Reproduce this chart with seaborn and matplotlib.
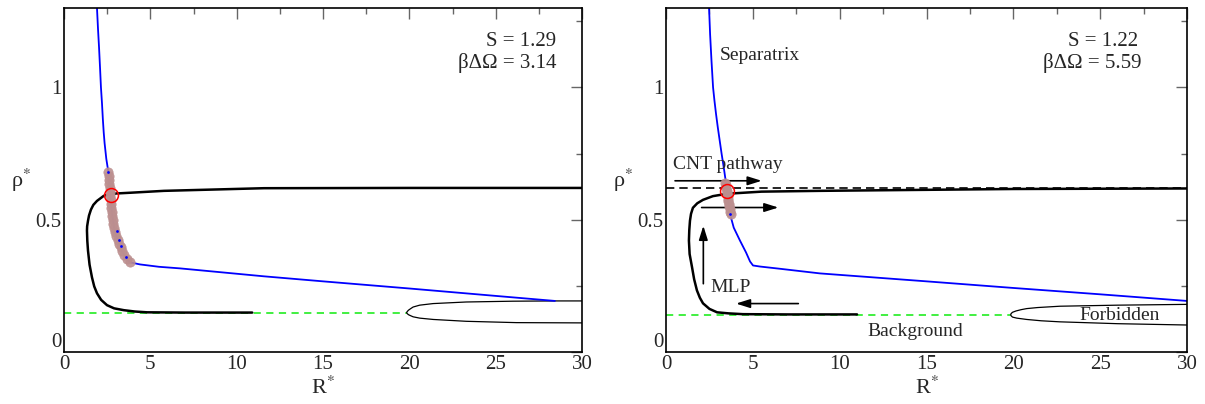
import numpy as np
import pandas as pd
import matplotlib
matplotlib.use("Agg")
import matplotlib.pyplot as plt
import seaborn as sns

# ---------------- data ----------------
# Left panel
L_sep_x = [1.91, 1.97, 2.03, 2.09, 2.14, 2.20, 2.25, 2.30, 2.35, 2.45, 2.57, 2.67, 2.80, 2.90,
           3.03, 3.12, 3.36, 3.63, 3.82, 4.4, 5.5, 6.72, 8.5, 11.58, 15.0, 20.0, 25.0, 28.43]
L_sep_y = [1.30, 1.22, 1.15, 1.07, 1.00, 0.94, 0.88, 0.83, 0.79, 0.73, 0.68, 0.59, 0.515, 0.47,
           0.44, 0.425, 0.38, 0.352, 0.339, 0.331, 0.322, 0.316, 0.305, 0.286, 0.267, 0.24,
           0.212, 0.193]

L_path_x = [30.0, 20.0, 11.58, 5.79, 3.88, 2.72, 2.30, 1.91, 1.70, 1.56, 1.45, 1.39, 1.34, 1.33,
            1.35, 1.39, 1.48, 1.62, 1.75, 1.91, 2.15, 2.49, 2.90, 3.47, 4.10, 4.81, 7.0, 10.9]
L_path_y = [0.620, 0.620, 0.619, 0.609, 0.602, 0.598, 0.590, 0.571, 0.556, 0.538, 0.516, 0.496,
            0.475, 0.459, 0.420, 0.383, 0.330, 0.282, 0.248, 0.222, 0.197, 0.177, 0.165, 0.158,
            0.153, 0.150, 0.149, 0.149]

L_forb_x = [30.0, 26.2, 23.3, 21.38, 20.6, 20.22, 20.08, 19.95, 19.88, 19.84, 19.88, 19.95,
            20.08, 20.22, 20.6, 21.38, 23.3, 26.0, 28.43, 30.0]
L_forb_y = [0.110, 0.111, 0.116, 0.123, 0.128, 0.133, 0.137, 0.141, 0.145, 0.149, 0.153, 0.158,
            0.164, 0.170, 0.177, 0.183, 0.189, 0.192, 0.193, 0.193]

L_bg_x = [0.0, 19.84]
L_bg_y = [0.148, 0.148]

L_pts_x = [2.57, 2.58, 2.60, 2.62, 2.64, 2.655, 2.67, 2.70, 2.72, 2.75, 2.77, 2.80, 2.83, 2.85,
           2.90, 2.96, 3.03, 3.12, 3.20, 3.28, 3.36, 3.50, 3.63, 3.80]
L_pts_y = [0.68, 0.665, 0.65, 0.635, 0.62, 0.605, 0.59, 0.575, 0.56, 0.545, 0.53, 0.515, 0.50,
           0.485, 0.47, 0.455, 0.44, 0.425, 0.41, 0.395, 0.38, 0.365, 0.352, 0.34]
L_dots_x = [2.57, 3.05, 3.20, 3.30, 3.57]
L_dots_y = [0.68, 0.459, 0.424, 0.402, 0.358]
L_crit = (2.72, 0.594)
L_S, L_dO = "1.29", "3.14"

# Right panel
R_sep_x = [2.48, 2.54, 2.62, 2.71, 2.79, 2.88, 2.98, 3.09, 3.20, 3.32, 3.43, 3.51, 3.60, 3.68,
           3.90, 4.26, 4.61, 4.84, 5.01, 5.41, 6.5, 8.87, 15.0, 20.0, 25.0, 30.0]
R_sep_y = [1.30, 1.20, 1.10, 1.00, 0.95, 0.90, 0.85, 0.80, 0.75, 0.70, 0.65, 0.609, 0.56, 0.523,
           0.47, 0.421, 0.376, 0.342, 0.327, 0.323, 0.315, 0.297, 0.267, 0.242, 0.218, 0.193]

R_path_x = [30.0, 20.0, 8.87, 5.5, 3.51, 2.70, 2.13, 1.80, 1.55, 1.44, 1.38, 1.34, 1.32, 1.36,
            1.50, 1.62, 1.78, 1.95, 2.13, 2.50, 2.94, 3.60, 4.43, 7.0, 11.0]
R_path_y = [0.618, 0.616, 0.609, 0.606, 0.598, 0.589, 0.575, 0.562, 0.545, 0.522, 0.496, 0.460,
            0.421, 0.370, 0.320, 0.275, 0.233, 0.205, 0.184, 0.163, 0.150, 0.146, 0.143, 0.142,
            0.142]

R_forb_x = [30.0, 26.0, 22.68, 21.6, 20.77, 20.2, 19.95, 19.87, 19.85, 19.87, 19.95, 20.15,
            20.45, 20.77, 21.4, 22.68, 26.0, 30.0]
R_forb_y = [0.102, 0.107, 0.114, 0.118, 0.123, 0.128, 0.132, 0.137, 0.141, 0.145, 0.150, 0.155,
            0.160, 0.164, 0.168, 0.173, 0.177, 0.180]

R_bg_x = [0.0, 19.85]
R_bg_y = [0.139, 0.139]
R_cnt_x = [0.0, 30.0]
R_cnt_y = [0.62, 0.62]

R_pts_x = [3.42, 3.45, 3.48, 3.50, 3.53, 3.55, 3.57, 3.59, 3.62, 3.64, 3.66, 3.69, 3.72]
R_pts_y = [0.64, 0.63, 0.62, 0.61, 0.60, 0.59, 0.58, 0.57, 0.56, 0.55, 0.54, 0.53, 0.52]
R_dots_x = [3.70]
R_dots_y = [0.52]
R_crit = (3.51, 0.609)
R_S, R_dO = "1.22", "5.59"

x_ticks = [0, 5, 10, 15, 20, 25, 30]
y_ticks = [0, 0.5, 1]
y_tick_labels = ["0", "0.5", "1"]

# ---------------- style ----------------
sns.set_style("white")
plt.rcParams['font.family'] = ['Liberation Serif', 'DejaVu Serif']
plt.rcParams['mathtext.fontset'] = 'stix'

W, H = 1205, 404
fig = plt.figure(figsize=(W / 100, H / 100), dpi=100)
ax1 = fig.add_axes([64 / W, (H - 352) / H, (582 - 64) / W, (352 - 8) / H])
ax2 = fig.add_axes([666 / W, (H - 352) / H, (1187 - 666) / W, (352 - 8) / H])

BLUE = '#0000ff'
GREEN = '#33ee33'
PINK = '#bc8f8f'


def curve(ax, xs, ys, **kw):
    df = pd.DataFrame({'x': xs, 'y': ys})
    sns.lineplot(data=df, x='x', y='y', sort=False, estimator=None, ax=ax, **kw)


def style_axes(ax):
    ax.set_xlim(0, 30)
    ax.set_ylim(0, 1.3)
    ax.set_xticks(x_ticks)
    ax.set_xticklabels([str(t) for t in x_ticks])
    ax.set_yticks(y_ticks)
    ax.set_yticklabels(y_tick_labels)
    ax.set_xticks(np.arange(0, 30.01, 2.5), minor=True)
    ax.set_yticks(np.arange(0, 1.301, 0.25), minor=True)
    ax.tick_params(which='both', direction='in', top=True, right=True, color='0.4',
                   labelsize=15, width=1.0)
    ax.tick_params(which='major', length=8, pad=2)
    ax.tick_params(which='minor', length=4)
    for s in ax.spines.values():
        s.set_color('black')
        s.set_linewidth(1.2)
    ax.set_xlabel(r'R$^{*}$', fontsize=16, labelpad=2)
    ax.set_ylabel(r'ρ$^{*}$', fontsize=16, rotation=0, va='center', ha='center')
    ax.yaxis.set_label_coords(-0.082, 0.5)


for ax, sep, path, forb, bg, pts, dots, crit, S, dO in [
    (ax1, (L_sep_x, L_sep_y), (L_path_x, L_path_y), (L_forb_x, L_forb_y), (L_bg_x, L_bg_y),
     (L_pts_x, L_pts_y), (L_dots_x, L_dots_y), L_crit, L_S, L_dO),
    (ax2, (R_sep_x, R_sep_y), (R_path_x, R_path_y), (R_forb_x, R_forb_y), (R_bg_x, R_bg_y),
     (R_pts_x, R_pts_y), (R_dots_x, R_dots_y), R_crit, R_S, R_dO)]:
    curve(ax, bg[0], bg[1], color=GREEN, lw=1.3, dashes=(4, 3))
    curve(ax, forb[0], forb[1], color='black', lw=0.9)
    curve(ax, path[0], path[1], color='black', lw=1.8)
    curve(ax, sep[0], sep[1], color=BLUE, lw=1.3)
    sns.scatterplot(x=pts[0], y=pts[1], ax=ax, color=PINK, s=45, linewidth=0.5,
                    edgecolor=PINK, alpha=0.9, zorder=4)
    sns.scatterplot(x=dots[0], y=dots[1], ax=ax, color=BLUE, s=4, linewidth=0, zorder=5)
    ax.plot([crit[0]], [crit[1]], marker='o', ms=10, mfc='none', mec='red', mew=1.1,
            ls='none', zorder=6)
    style_axes(ax)
    # lift the y-axis "0" label slightly, as in the reference corner
    ylabs = ax.get_yticklabels()
    ylabs[0].set_va('bottom')

ax1.text(28.5, 1.173, f"S = {L_S}", ha='right', va='center', fontsize=15)
ax1.text(28.5, 1.091, f"βΔΩ = {L_dO}", ha='right', va='center', fontsize=15)
ax2.text(27.2, 1.173, f"S = {R_S}", ha='right', va='center', fontsize=15)
ax2.text(27.4, 1.091, f"βΔΩ = {R_dO}", ha='right', va='center', fontsize=15)

curve(ax2, R_cnt_x, R_cnt_y, color='black', lw=1.2, dashes=(5, 3))

ax2.text(3.07, 1.12, "Separatrix", ha='left', va='center', fontsize=14)
ax2.text(0.42, 0.709, "CNT pathway", ha='left', va='center', fontsize=14)
ax2.text(2.53, 0.245, "MLP", ha='left', va='center', fontsize=14)
ax2.text(14.33, 0.079, "Background", ha='center', va='center', fontsize=14)
ax2.text(26.1, 0.139, "Forbidden", ha='center', va='center', fontsize=14)

arrow_kw = dict(arrowstyle='-|>,head_length=0.7,head_width=0.22', lw=1.2, color='black',
                shrinkA=0, shrinkB=0, mutation_scale=12)
for (x0, y0), (x1, y1) in [((0.52, 0.647), (5.51, 0.647)),
                           ((2.05, 0.546), (6.47, 0.546)),
                           ((2.15, 0.258), (2.15, 0.477)),
                           ((7.62, 0.183), (4.03, 0.183))]:
    ax2.annotate("", xy=(x1, y1), xytext=(x0, y0), arrowprops=arrow_kw)

fig.savefig("out.png", dpi=100)
